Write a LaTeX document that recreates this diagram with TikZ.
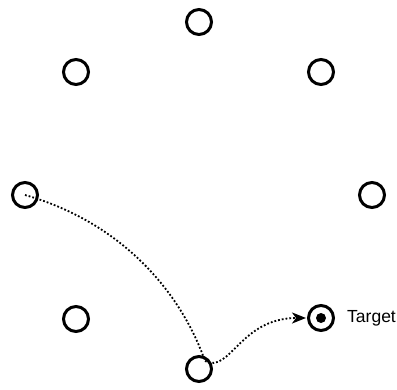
\documentclass[tikz,border=0pt]{standalone}
\usepackage{fontspec}
\setmainfont{Liberation Sans}
\usetikzlibrary{arrows.meta}
\begin{document}
\begin{tikzpicture}[x=1pt,y=-1pt,
  ring/.style={circle,draw,line width=3pt,minimum size=25pt,inner sep=0pt},
  dotline/.style={line width=1.8pt,dash pattern=on 1.8pt off 2pt}]
\useasboundingbox (0,0) rectangle (397,389);
\node[ring] (top) at (199,22) {};
\node[ring] (ul) at (76,72) {};
\node[ring] (ur) at (321,72) {};
\node[ring] (left) at (25,195) {};
\node[ring] (right) at (372,195) {};
\node[ring] (ll) at (76,319) {};
\node[ring] (bottom) at (199,369) {};
\node[ring] (target) at (321,318) {};
\fill (target.center) circle (5pt);
\node[anchor=west,font=\fontsize{17.5}{20}\selectfont,inner sep=0pt] (tlabel) at (347,318) {Target};
\coordinate (turn) at (205,361);
\draw[dotline] (left.center) .. controls (120,222) and (180,290) .. (turn);
\draw[dotline,-{Stealth[length=14pt,width=11pt,inset=4pt]},shorten >=1pt] (turn) .. controls (230,374) and (240,318) .. (target);
\end{tikzpicture}
\end{document}
